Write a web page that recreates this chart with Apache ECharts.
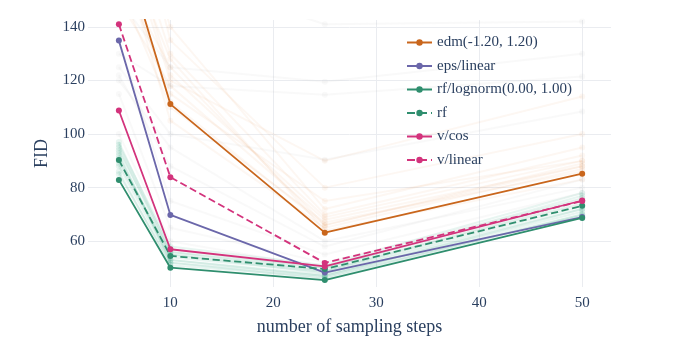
<!DOCTYPE html>
<html>
<head>
<meta charset="utf-8">
<script src="https://cdn.jsdelivr.net/npm/echarts@6/dist/echarts.min.js"></script>
<style>html,body{margin:0;padding:0;background:#fff;}#c{width:686px;height:362px;}</style>
</head>
<body>
<div id="c"></div>
<script>
// ---- data ----
var steps = [5, 10, 25, 50];
var xTicks = [10, 20, 30, 40, 50];
var yTicks = [60, 80, 100, 120, 140];

var edm = [175, 111.2, 63.2, 85.2];
var epsLinear = [134.9, 69.8, 48.3, 69.0];
var rfLognorm = [82.9, 50.1, 45.5, 68.7];
var rf = [90.3, 54.5, 49.6, 73.2];
var vCos = [108.8, 57.0, 50.6, 75.2];
var vLinear = [141.0, 83.9, 51.9, 75.0];

// faint background runs (other configurations)
var faintOrange = [
  [160, 125, 66, 89], [190, 130, 70, 92], [150, 118, 68, 88], [200, 140, 72, 95],
  [170, 105, 65, 87], [180, 120, 90, 114], [165, 115, 75, 90], [155, 110, 67, 86],
  [210, 135, 80, 100], [175, 128, 64, 83], [185, 122, 69, 90], [168, 112, 66, 88]
];
var faintGray = [
  [150, 160, 141, 142], [150, 125, 119.5, 130], [130, 118, 114.7, 121.5],
  [125, 100, 90.4, 108.4], [120, 95, 60, 80], [135, 75, 55, 78],
  [115, 65, 52, 76], [100, 60, 50, 74], [122, 88, 58, 83]
];
var faintGreen = [
  [93, 52, 47, 70], [95, 55, 48, 72], [97, 56, 49, 74], [88, 53, 47.5, 71],
  [86, 51, 46.5, 69.5], [91, 54, 48.5, 73], [94, 57, 50, 76], [96, 58, 51, 78],
  [85, 52, 46, 70], [89, 55, 49, 75], [92, 53, 47, 72], [90, 56, 50, 77]
];

var names = ['edm(-1.20, 1.20)', 'eps/linear', 'rf/lognorm(0.00, 1.00)', 'rf', 'v/cos', 'v/linear'];
var mainData = [edm, epsLinear, rfLognorm, rf, vCos, vLinear];
var colors = ['#c9661c', '#6b67aa', '#2f8e6e', '#2f8e6e', '#d3337c', '#d3337c'];
var dashes = ['solid', 'solid', 'solid', 'dashed', 'solid', 'dashed'];

function pairs(vals) { return steps.map(function (s, i) { return [s, vals[i]]; }); }

var series = [];
function addFaint(list, color) {
  list.forEach(function (v) {
    series.push({
      type: 'line', data: pairs(v), silent: true, symbol: 'circle', symbolSize: 6,
      lineStyle: { color: color, width: 2 }, itemStyle: { color: color },
      z: 1, animation: false
    });
  });
}
addFaint(faintGray, 'rgba(150,150,150,0.06)');
addFaint(faintOrange, 'rgba(217,95,2,0.05)');
addFaint(faintGreen, 'rgba(27,158,119,0.10)');

names.forEach(function (n, i) {
  series.push({
    name: n, type: 'line', data: pairs(mainData[i]), symbol: 'circle', symbolSize: 6,
    showSymbol: true, z: 5, animation: false,
    lineStyle: { color: colors[i], width: 1.8, type: dashes[i] },
    itemStyle: { color: colors[i] }
  });
});

var font = 'Liberation Serif';
var txt = '#2a3f5f';
var chart = echarts.init(document.getElementById('c'), null, { renderer: 'canvas' });
chart.setOption({
  backgroundColor: '#ffffff',
  animation: false,
  grid: { left: 88, right: 75, top: 20, bottom: 75 },
  legend: {
    data: names, orient: 'vertical', left: 406, top: 35, padding: 0,
    itemWidth: 25, itemHeight: 8, itemGap: 8.5,
    textStyle: { fontFamily: font, fontSize: 15, color: txt }
  },
  xAxis: {
    type: 'value', min: 2, max: 52.8,
    name: 'number of sampling steps', nameLocation: 'middle', nameGap: 31,
    nameTextStyle: { fontFamily: font, fontSize: 18, color: txt },
    axisLine: { show: false }, axisTick: { show: false, customValues: xTicks },
    axisLabel: { customValues: xTicks, fontFamily: font, fontSize: 15, color: txt, margin: 9 },
    splitLine: { show: true, lineStyle: { color: '#eaecf0', width: 1 } }
  },
  yAxis: {
    type: 'value', min: 42.9, max: 142.6,
    name: 'FID', nameLocation: 'middle', nameGap: 36, nameRotate: 90,
    nameTextStyle: { fontFamily: font, fontSize: 18, color: txt },
    axisLine: { show: false }, axisTick: { show: false, customValues: yTicks },
    axisLabel: { customValues: yTicks, fontFamily: font, fontSize: 15, color: txt, margin: 3 },
    splitLine: { show: true, lineStyle: { color: '#eaecf0', width: 1 } }
  },
  series: series
});
</script>
</body>
</html>
